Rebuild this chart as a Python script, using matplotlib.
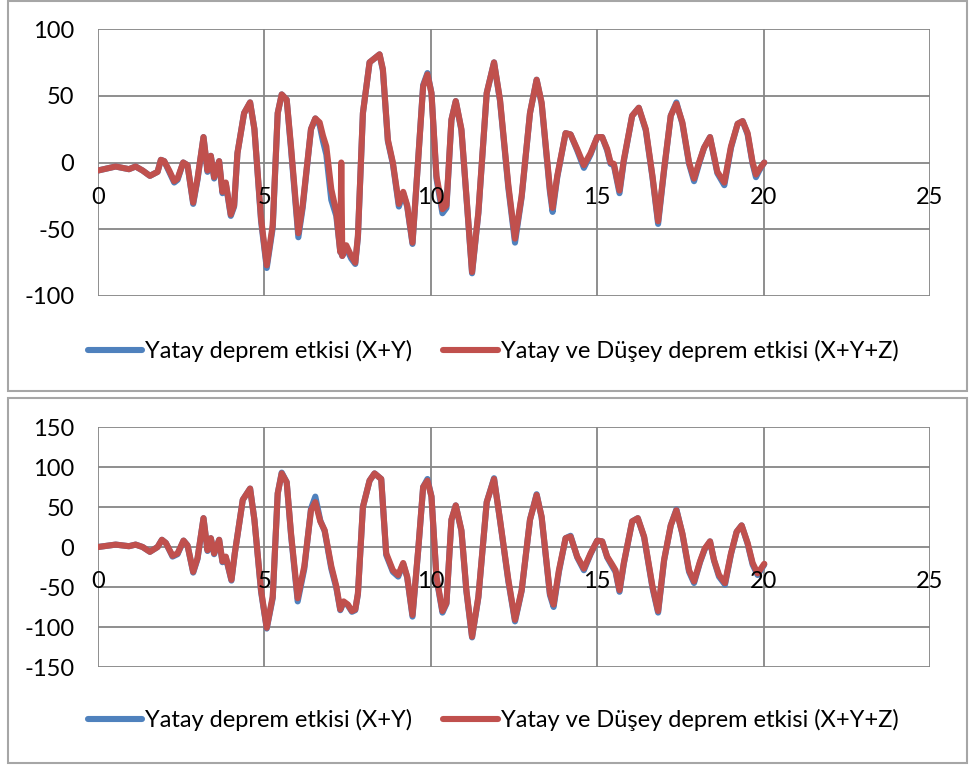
"""Two-panel time history: horizontal vs horizontal+vertical earthquake effect."""

import matplotlib
matplotlib.use("Agg")
import matplotlib.pyplot as plt
from matplotlib.patches import Rectangle

plt.rcParams["font.family"] = ["Lato", "DejaVu Sans"]

# ------------------------------
# Data
# ------------------------------

t_top = [0.00, 0.53, 0.93, 1.13, 1.34, 1.56, 1.79, 1.89, 1.99, 2.14, 2.29, 2.39,
         2.56, 2.69, 2.86, 2.99, 3.17, 3.29, 3.39, 3.49, 3.64, 3.74, 3.84, 3.99,
         4.09, 4.19, 4.39, 4.57, 4.70, 4.90, 5.07, 5.25, 5.40, 5.52, 5.67, 5.80,
         6.02, 6.15, 6.40, 6.53, 6.66, 6.76, 6.86, 7.01, 7.16, 7.28, 7.31, 7.34,
         7.46, 7.61, 7.73, 7.81, 7.96, 8.16, 8.31, 8.46, 8.56, 8.71, 8.86, 9.04,
         9.17, 9.29, 9.45, 9.62, 9.77, 9.90, 10.02, 10.17, 10.35, 10.47, 10.62,
         10.75, 10.92, 11.07, 11.24, 11.43, 11.68, 11.90, 12.08, 12.33, 12.53,
         12.73, 12.98, 13.18, 13.33, 13.58, 13.66, 13.80, 14.05, 14.20, 14.40,
         14.60, 14.80, 15.00, 15.15, 15.30, 15.40, 15.50, 15.67, 15.80, 16.05,
         16.25, 16.46, 16.66, 16.83, 17.01, 17.21, 17.38, 17.56, 17.76, 17.91,
         18.06, 18.21, 18.39, 18.51, 18.61, 18.82, 19.02, 19.22, 19.37, 19.52,
         19.67, 19.77, 19.87, 20.02]

red_top = [-6, -3, -5, -3, -6, -10, -7, 2, 1, -6, -14, -12,
           0, -2, -30, -12, 19, -6, 5, -11, 1, -22, -15, -39,
           -32, 7, 37, 45, 25, -42, -77, -47, 37, 51, 47, 12,
           -53, -32, 25, 33, 30, 20, 12, -20, -37, -67, 0, -70,
           -62, -70, -75, -55, 37, 75, 78, 81, 70, 17, 0, -31,
           -22, -32, -60, 2, 57, 66, 52, -10, -35, -32, 32,
           46, 25, -25, -82, -37, 52, 75, 47, -17, -57,
           -25, 37, 62, 45, -20, -34, -10, 22, 21, 10,
           -2, 7, 19, 19, 10, 0, -1, -21, 2, 35,
           41, 25, -10, -44, -5, 35, 44, 30, 0, -12,
           0, 11, 19, 5, -7, -15, 12, 29, 31, 22,
           0, -9, -5, 0]

blue_top = [-6, -3, -5, -3, -6, -10, -7, 2, 1, -7, -15, -13,
            0, -2, -31, -13, 19, -7, 5, -12, 1, -23, -16, -40,
            -33, 7, 37, 45, 25, -44, -79, -49, 37, 51, 47, 10,
            -56, -34, 25, 33, 28, 16, 6, -28, -40, -67, -68, -70,
            -64, -72, -76, -56, 37, 75, 78, 81, 69, 16, -1, -33,
            -23, -33, -61, 2, 58, 67, 52, -12, -38, -34, 32,
            46, 24, -26, -83, -38, 52, 75, 46, -19, -60,
            -26, 37, 62, 44, -22, -37, -11, 22, 21, 9,
            -4, 6, 19, 19, 9, -1, -2, -23, 1, 35,
            41, 24, -11, -46, -6, 35, 45, 29, -1, -14,
            -1, 11, 19, 4, -8, -17, 11, 29, 31, 21,
            -1, -11, -6, 0]

t_bot = [0.00, 0.53, 0.93, 1.13, 1.34, 1.56, 1.79, 1.92, 2.04, 2.24, 2.39, 2.57,
         2.69, 2.86, 2.99, 3.17, 3.29, 3.39, 3.49, 3.64, 3.74, 3.84, 4.01, 4.11,
         4.35, 4.57, 4.70, 4.90, 5.07, 5.25, 5.40, 5.52, 5.67, 5.80, 6.00, 6.20,
         6.40, 6.53, 6.68, 6.81, 7.01, 7.16, 7.28, 7.38, 7.51, 7.63, 7.73, 7.81,
         7.96, 8.16, 8.31, 8.51, 8.66, 8.86, 9.02, 9.17, 9.29, 9.45, 9.62, 9.77,
         9.90, 10.02, 10.17, 10.35, 10.47, 10.62, 10.75, 10.92, 11.07, 11.24,
         11.43, 11.68, 11.90, 12.08, 12.33, 12.53, 12.73, 12.98, 13.18, 13.33,
         13.58, 13.69, 13.85, 14.05, 14.20, 14.40, 14.60, 14.80, 15.00, 15.15,
         15.30, 15.45, 15.55, 15.67, 15.80, 16.05, 16.22, 16.41, 16.66, 16.83,
         17.01, 17.21, 17.38, 17.56, 17.76, 17.91, 18.09, 18.23, 18.39, 18.51,
         18.66, 18.84, 19.02, 19.19, 19.34, 19.52, 19.67, 19.82, 20.02]

red_bot = [0, 3, 1, 3, 0, -6, 0, 9, 5, -11, -8, 8,
           2, -31, -14, 36, -4, 11, -8, 9, -18, -12, -41, -8,
           59, 73, 34, -54, -101, -62, 67, 92, 81, 17, -64, -24,
           46, 56, 32, 21, -24, -49, -78, -68, -72, -80, -78, -58,
           50, 83, 92, 85, -8, -29, -35, -20, -37, -85, -4, 75,
           83, 63, -37, -80, -70, 34, 52, 21, -54, -112,
           -62, 56, 85, 34, -41, -91, -54, 34, 65, 38,
           -58, -72, -29, 11, 13, -12, -27, -8, 8, 7,
           -12, -22, -29, -54, -20, 32, 36, 13, -49, -80,
           -16, 27, 46, 17, -29, -43, -18, -2, 7, -16,
           -35, -45, -8, 19, 27, 5, -20, -33, -21]

blue_bot = [0, 3, 1, 3, 0, -6, 0, 9, 5, -12, -9, 8,
            2, -32, -15, 36, -5, 11, -9, 9, -19, -13, -42, -8,
            59, 73, 34, -56, -102, -64, 67, 93, 81, 15, -68, -27,
            48, 63, 33, 20, -27, -51, -79, -69, -73, -81, -79, -59,
            50, 83, 92, 85, -10, -31, -37, -21, -38, -87, -5, 75,
            85, 63, -39, -82, -71, 34, 52, 20, -56, -113,
            -63, 56, 86, 33, -43, -93, -55, 34, 66, 37,
            -60, -75, -31, 11, 14, -13, -29, -9, 8, 7,
            -13, -24, -31, -56, -21, 32, 36, 12, -51, -82,
            -17, 27, 47, 16, -31, -45, -19, -3, 7, -17,
            -37, -47, -9, 19, 27, 4, -22, -35, -22]

labels = ["Yatay deprem etkisi (X+Y)", "Yatay ve Düşey deprem etkisi (X+Y+Z)"]
x_ticks = [0, 5, 10, 15, 20, 25]
y_ticks_top = [-100, -50, 0, 50, 100]
y_ticks_bot = [-150, -100, -50, 0, 50, 100, 150]

# ------------------------------
# Plot
# ------------------------------

W, H = 971, 765
BLUE = "#4F81BD"
RED = "#C0504D"
GRID = "#868686"
FS = 17

fig = plt.figure(figsize=(W / 100, H / 100), dpi=100)

# outer chart frames
for y0, y1 in [(1, 391), (398, 763)]:
    fig.patches.append(Rectangle((8 / W, 1 - y1 / H), 959 / W, (y1 - y0) / H,
                                 transform=fig.transFigure, fill=False,
                                 edgecolor="#A6A6A6", linewidth=1.5))


def panel(rect_px, t, blue, red, yticks, legend_y):
    left, top, right, bottom = rect_px
    ax = fig.add_axes([left / W, 1 - bottom / H, (right - left) / W, (bottom - top) / H])
    ax.plot(t, blue, color=BLUE, lw=4.4, solid_joinstyle="round",
            solid_capstyle="round", label=labels[0])
    ax.plot(t, red, color=RED, lw=4.4, solid_joinstyle="round",
            solid_capstyle="round", label=labels[1])
    ax.set_xlim(0, 25)
    ax.set_ylim(yticks[0], yticks[-1])
    ax.set_xticks(x_ticks)
    ax.set_yticks(yticks)
    ax.set_xticklabels([])
    ax.set_yticklabels([str(v) for v in yticks], fontsize=FS)
    ax.tick_params(length=0, pad=17)
    ax.grid(True, color=GRID, lw=1.3)
    ax.set_axisbelow(True)
    for s in ax.spines.values():
        s.set_visible(False)
    for v in x_ticks:
        ax.annotate(str(v), xy=(v, 0), xytext=(0, -35), textcoords="offset pixels",
                    ha="center", va="center", fontsize=FS)
    leg = fig.legend(handles=ax.get_lines(), labels=labels, loc="center",
                     bbox_to_anchor=(0.508, 1 - legend_y / H), ncol=2, frameon=False,
                     fontsize=FS, handlelength=2.3, handletextpad=0.15,
                     columnspacing=1.3, borderaxespad=0)
    for ln in leg.get_lines():
        ln.set_linewidth(4.4)
    return ax


panel((98, 29, 930, 296), t_top, blue_top, red_top, y_ticks_top, 351)
panel((98, 427, 930, 667), t_bot, blue_bot, red_bot, y_ticks_bot, 720)

plt.savefig("out.png", dpi=100)
